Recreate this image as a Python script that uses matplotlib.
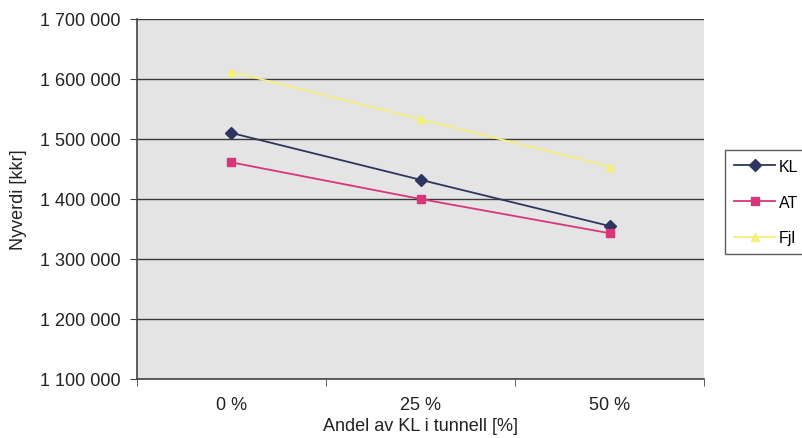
import matplotlib
matplotlib.use("Agg")
import matplotlib.pyplot as plt
from matplotlib.ticker import FuncFormatter, FixedLocator

categories = ["0 %", "25 %", "50 %"]
series_names = ["KL", "AT", "Fjl"]
kl_values = [1510000, 1432000, 1355000]
at_values = [1461000, 1400000, 1343000]
fjl_values = [1612000, 1533000, 1454000]
y_ticks = [1100000, 1200000, 1300000, 1400000, 1500000, 1600000, 1700000]

plt.rcParams['font.family'] = ['Liberation Sans', 'DejaVu Sans']
FS = 13

fig = plt.figure(figsize=(8.03, 4.39), dpi=100)
ax = fig.add_axes([137/803, 1-380/439, (704-137)/803, 360/439])
ax.set_facecolor("#e4e4e4")

x = list(range(len(categories)))
ax.plot(x, kl_values, color="#2e3560", marker="D", markersize=6, lw=1.3, label=series_names[0])
ax.plot(x, at_values, color="#d8357a", marker="s", markersize=6, lw=1.3, label=series_names[1])
ax.plot(x, fjl_values, color="#f4f07a", marker="^", markersize=6, lw=1.3, label=series_names[2])

ax.set_xlim(-0.5, 2.5)
ax.set_ylim(y_ticks[0], y_ticks[-1])
ax.set_yticks(y_ticks)
ax.yaxis.set_major_formatter(FuncFormatter(lambda v, p: f"{int(v):,}".replace(",", " ")))
ax.yaxis.grid(True, color="#3a3a3a", lw=1)
ax.set_axisbelow(True)

ax.set_xticks(x)
ax.set_xticklabels(categories)
ax.xaxis.set_minor_locator(FixedLocator([-0.5, 0.5, 1.5, 2.5]))
ax.tick_params(axis="x", which="major", length=0, pad=12, labelsize=FS, colors="#222222")
ax.tick_params(axis="x", which="minor", length=5, color="#444444", direction="out")
ax.tick_params(axis="y", length=5, pad=7, color="#444444", labelsize=FS, labelcolor="#222222")

for s in ["top", "right"]:
    ax.spines[s].set_visible(False)
for s in ["left", "bottom"]:
    ax.spines[s].set_color("#444444")
    ax.spines[s].set_linewidth(1.2)

ax.set_ylabel("Nyverdi [kkr]", fontsize=FS, color="#222222", labelpad=9)
ax.set_xlabel("Andel av KL i tunnell [%]", fontsize=FS, color="#222222", labelpad=3)

leg = fig.legend(loc="upper left", bbox_to_anchor=(725/803, 1-151/439), frameon=True,
                 fancybox=False, edgecolor="#333333", fontsize=11.5, labelspacing=1.3,
                 handlelength=2.6, handletextpad=0.2, borderpad=0.55, borderaxespad=0)
leg.get_frame().set_linewidth(1.0)

fig.savefig("out.png", dpi=100)
